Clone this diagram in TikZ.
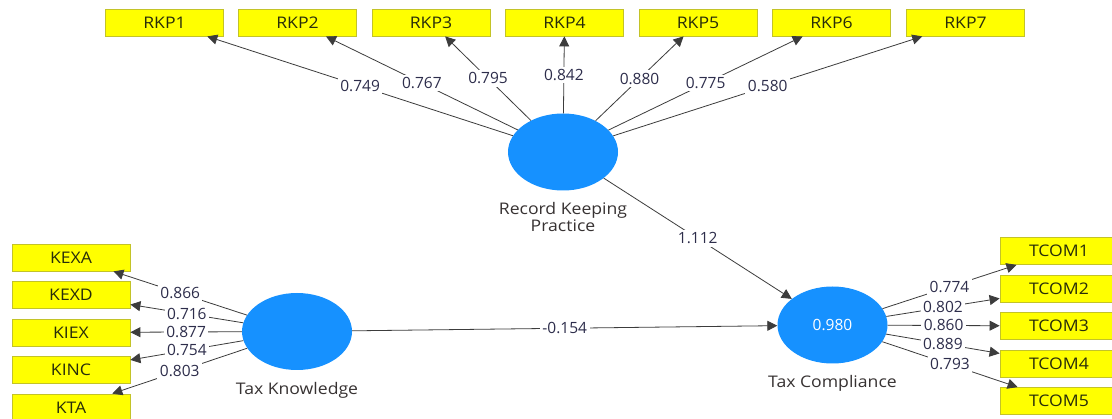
\documentclass[tikz,border=0pt]{standalone}
\usepackage{fontspec}
\setmainfont{Open Sans}
\newfontfamily\wideui[FakeStretch=1.1]{Open Sans}
\usetikzlibrary{arrows.meta,shapes.geometric}
\definecolor{boxfill}{RGB}{255,255,0}
\definecolor{boxline}{RGB}{195,195,40}
\definecolor{lvfill}{RGB}{22,145,255}
\definecolor{edgecol}{RGB}{60,60,60}
\definecolor{numtext}{RGB}{45,45,75}
\definecolor{nametext}{RGB}{55,50,50}
\definecolor{boxtext}{RGB}{40,45,10}
\begin{document}
\begin{tikzpicture}[x=1pt,y=-1pt,
  ind/.style={draw=boxline, fill=boxfill, line width=0.8pt,
    minimum width=118pt, minimum height=27pt, inner sep=0pt,
    font=\wideui\fontsize{16}{17}\selectfont, text=boxtext},
  lv/.style={ellipse, fill=lvfill, minimum width=110pt, minimum height=77pt, inner sep=0pt,
    font=\fontsize{15.5}{16}\selectfont, text=white},
  lvname/.style={font=\wideui\fontsize{16}{17}\selectfont, text=nametext, align=center},
  pathline/.style={draw=edgecol, line width=0.8pt, -{Triangle[length=10pt,width=10pt]}},
  coef/.style={fill=white, inner sep=2.5pt, font=\fontsize{15.5}{16}\selectfont, text=numtext}
]
\clip (0,0) rectangle (1112,419);
\fill[white] (0,0) rectangle (1112,419);

% indicators of Record Keeping Practice
\node[ind] (rkp1) at (164.5,22.5) {RKP1};
\node[ind] (rkp2) at (297.5,22.5) {RKP2};
\node[ind] (rkp3) at (431,22.5) {RKP3};
\node[ind] (rkp4) at (564.5,22.5) {RKP4};
\node[ind] (rkp5) at (698,22.5) {RKP5};
\node[ind] (rkp6) at (831.5,22.5) {RKP6};
\node[ind] (rkp7) at (965.5,22.5) {RKP7};

% indicators of Tax Knowledge
\node[ind] (kexa) at (71,257.5) {KEXA};
\node[ind] (kexd) at (71,295) {KEXD};
\node[ind] (kiex) at (71,332.5) {KIEX};
\node[ind] (kinc) at (71,370) {KINC};
\node[ind] (kta)  at (71,407.5) {KTA};

% indicators of Tax Compliance
\node[ind] (tcom1) at (1059,251) {TCOM1};
\node[ind] (tcom2) at (1059,289) {TCOM2};
\node[ind] (tcom3) at (1059,326) {TCOM3};
\node[ind] (tcom4) at (1059,363.5) {TCOM4};
\node[ind] (tcom5) at (1059,401) {TCOM5};

% latent variables
\node[lv] (rk) at (563,152) {};
\node[lv] (tk) at (297,331.5) {};
\node[lv] (tc) at (832.5,325) {0.980};
\node[lvname] (rkname) at (563,217.5) {Record Keeping\\Practice};
\node[lvname] (tkname) at (297,390) {Tax Knowledge};
\node[lvname] (tcname) at (832.5,383) {Tax Compliance};

% outer loadings
\draw[pathline] (rk) -- node[coef]{0.749} (rkp1);
\draw[pathline] (rk) -- node[coef]{0.767} (rkp2);
\draw[pathline] (rk) -- node[coef]{0.795} (rkp3);
\draw[pathline] (rk) -- node[coef]{0.842} (rkp4);
\draw[pathline] (rk) -- node[coef]{0.880} (rkp5);
\draw[pathline] (rk) -- node[coef]{0.775} (rkp6);
\draw[pathline] (rk) -- node[coef]{0.580} (rkp7);

\draw[pathline] (tk) -- node[coef]{0.866} (kexa);
\draw[pathline] (tk) -- node[coef]{0.716} (kexd);
\draw[pathline] (tk) -- node[coef]{0.877} (kiex);
\draw[pathline] (tk) -- node[coef]{0.754} (kinc);
\draw[pathline] (tk) -- node[coef]{0.803} (kta);

\draw[pathline] (tc) -- node[coef]{0.774} (tcom1);
\draw[pathline] (tc) -- node[coef]{0.802} (tcom2);
\draw[pathline] (tc) -- node[coef]{0.860} (tcom3);
\draw[pathline] (tc) -- node[coef]{0.889} (tcom4);
\draw[pathline] (tc) -- node[coef]{0.793} (tcom5);

% structural paths
\draw[pathline] (rk) -- node[coef]{1.112} (tc);
\draw[pathline] (tk) -- node[coef]{-0.154} (tc);
\end{tikzpicture}
\end{document}
